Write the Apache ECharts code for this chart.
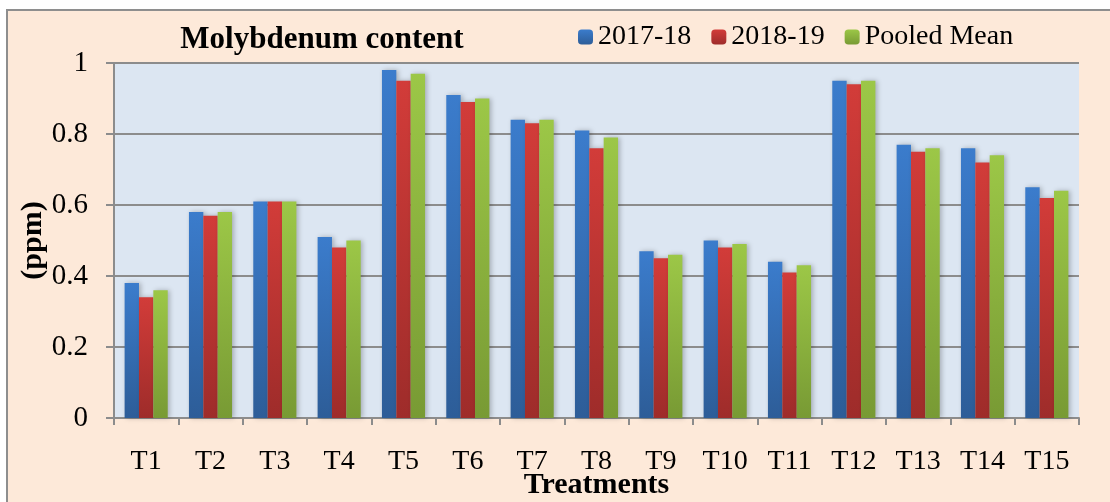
<!DOCTYPE html>
<html>
<head>
<meta charset="utf-8">
<script src="https://cdn.jsdelivr.net/npm/echarts@6/dist/echarts.min.js"></script>
<style>
  html, body { margin: 0; padding: 0; background: #ffffff; overflow: hidden; }
  #frame { position: absolute; left: 6px; top: 9px; width: 1120px; height: 510px;
           background: #fde9d9; border: 2px solid #8e8e8e; box-sizing: border-box; }
  #chart { position: absolute; left: 0; top: 0; width: 1110px; height: 502px; }
</style>
</head>
<body>
<div id="frame"></div>
<div id="chart"></div>
<script>
// data
const categories = ["T1", "T2", "T3", "T4", "T5", "T6", "T7", "T8", "T9", "T10", "T11", "T12", "T13", "T14", "T15"];
const y2017 = [0.38, 0.58, 0.61, 0.51, 0.98, 0.91, 0.84, 0.81, 0.47, 0.50, 0.44, 0.95, 0.77, 0.76, 0.65];
const y2018 = [0.34, 0.57, 0.61, 0.48, 0.95, 0.89, 0.83, 0.76, 0.45, 0.48, 0.41, 0.94, 0.75, 0.72, 0.62];
const pooled = [0.36, 0.58, 0.61, 0.50, 0.97, 0.90, 0.84, 0.79, 0.46, 0.49, 0.43, 0.95, 0.76, 0.74, 0.64];
const seriesNames = ["2017-18", "2018-19", "Pooled Mean"];

const font = "'Liberation Serif', 'Times New Roman', serif";

const grad = (top, bottom) => new echarts.graphic.LinearGradient(0, 0, 0, 1, [
  { offset: 0, color: top },
  { offset: 1, color: bottom },
]);

const chart = echarts.init(document.getElementById("chart"));

const mkSeries = (name, data, top, bottom) => ({
  name: name,
  type: "bar",
  data: data,
  barGap: "0%",
  barCategoryGap: "33%",
  itemStyle: {
    color: grad(top, bottom),
    shadowColor: "rgba(0,0,0,0.25)",
    shadowBlur: 5,
    shadowOffsetX: 2,
  },
  emphasis: { disabled: true },
});

const option = {
  backgroundColor: "transparent",
  animation: false,
  title: {
    text: "Molybdenum content",
    left: 317,
    top: 19,
    textAlign: "center",
    textStyle: { fontFamily: font, fontSize: 31, fontWeight: "bold", color: "#000" },
  },
  legend: {
    data: seriesNames,
    left: 578,
    top: 23,
    padding: 0,
    itemWidth: 15,
    itemHeight: 15,
    itemGap: 20,
    textStyle: { fontFamily: font, fontSize: 28, color: "#000" },
  },
  grid: { left: 114, right: 31, top: 63, bottom: 84, outerBoundsMode: "none" },
  xAxis: {
    type: "category",
    data: categories,
    name: "Treatments",
    nameLocation: "middle",
    nameGap: 52,
    nameMoveOverlap: false,
    nameTextStyle: { fontFamily: font, fontSize: 30, fontWeight: "bold", color: "#000" },
    axisLine: { lineStyle: { color: "#8c8c8c", width: 2 } },
    axisTick: { show: true, length: 7, lineStyle: { color: "#8c8c8c", width: 2 } },
    axisLabel: { fontFamily: font, fontSize: 28, color: "#000", margin: 30 },
    splitArea: { show: false },
  },
  yAxis: {
    type: "value",
    min: 0,
    max: 1,
    interval: 0.2,
    name: "(ppm)",
    nameLocation: "middle",
    nameGap: 66,
    nameMoveOverlap: false,
    nameTextStyle: { fontFamily: font, fontSize: 30, fontWeight: "bold", color: "#000" },
    axisLine: { show: true, lineStyle: { color: "#8c8c8c", width: 2 } },
    axisTick: { show: true, length: 8, lineStyle: { color: "#8c8c8c", width: 2 } },
    axisLabel: { fontFamily: font, fontSize: 29, color: "#000", margin: 26 },
    splitLine: { lineStyle: { color: "#8c8c8c", width: 2 } },
  },
  graphic: [],
  series: [
    mkSeries(seriesNames[0], y2017, "#3b7ccc", "#2d5d98"),
    mkSeries(seriesNames[1], y2018, "#d23c39", "#9e2c2a"),
    mkSeries(seriesNames[2], pooled, "#9cc747", "#789a34"),
  ],
};

chart.setOption(option);

// plot area background
const r = chart.getModel().getComponent("grid").coordinateSystem.getRect();
chart.setOption({
  graphic: [{
    type: "rect",
    z: -10,
    silent: true,
    shape: { x: r.x, y: r.y, width: r.width, height: r.height },
    style: { fill: "#dce6f2" },
  }],
});
</script>
</body>
</html>
